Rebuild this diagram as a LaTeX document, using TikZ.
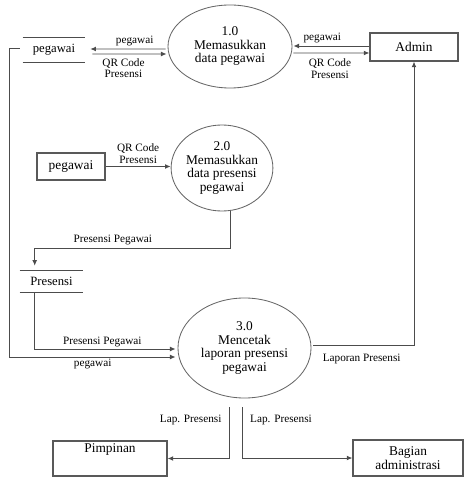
\documentclass[tikz,border=0pt]{standalone}
\usepackage{fontspec}
\setmainfont{Liberation Serif}
\usetikzlibrary{arrows.meta,positioning,calc,shapes.geometric}

\begin{document}
\begin{tikzpicture}[x=0.025cm, y=-0.025cm, >={Latex[length=4pt,width=3.5pt]},
    line/.style={draw=black!70, line width=0.7pt},
    proc/.style={ellipse, draw=black!60, line width=0.6pt, inner sep=0pt, align=center, font=\fontsize{9.5}{9.6}\selectfont},
    entity/.style={rectangle, draw=black!65, line width=0.8pt, inner sep=0pt, align=center, font=\fontsize{9.5}{9.6}\selectfont},
    store/.style={inner sep=0pt, font=\fontsize{9}{9}\selectfont},
    lbl/.style={inner sep=0pt, align=center, font=\fontsize{8}{8}\selectfont}]

    \useasboundingbox (0,0) rectangle (464,477);

    % Nodes
    \node[proc, minimum width=3.1cm, minimum height=2.075cm] (p1) at (230,46.5) {1.0\\Memasukkan\\data pegawai};
    \node[proc, minimum width=2.5cm, minimum height=2.15cm] (p2) at (222,168) {2.0\\Memasukkan\\data presensi\\pegawai};
    \node[proc, minimum width=3.325cm, minimum height=2.5cm] (p3) at (244.5,348) {3.0\\Mencetak\\laporan presensi\\pegawai};

    \node[entity, minimum width=2.2cm, minimum height=0.7cm] (admin) at (414,47) {Admin};
    \node[entity, minimum width=1.7cm, minimum height=0.675cm] (pegBox) at (71,166.5) {pegawai};
    \node[entity, minimum width=2.85cm, minimum height=0.875cm, text height=0.25cm, text depth=0.55cm] (pim) at (110,458.5) {Pimpinan};
    \node[entity, minimum width=2.75cm, minimum height=0.9cm] (bag) at (408,458) {Bagian\\administrasi};

    \node[store, minimum width=1.55cm, minimum height=0.6cm] (dsPeg) at (54,50) {pegawai};
    \node[store, minimum width=1.575cm, minimum height=0.525cm] (dsPres) at (51.5,281.5) {Presensi};
    \foreach \s in {dsPeg,dsPres}
        \draw[line] (\s.north west) -- (\s.north east) (\s.south west) -- (\s.south east);

    \coordinate (lapL) at (229,407);
    \coordinate (lapR) at (242,407);

    % Arrows
    \draw[line,->] ($(p1.west)+(-2,2.5)$) -- node[lbl, pos=0.41, above=1.5pt] {pegawai} ($(dsPeg.east)+(5,-1)$);
    \draw[line,->] ($(dsPeg.east)+(7,4)$) -- node[lbl, pos=0.42, below=3pt] {QR Code\\Presensi} ($(p1.west)+(-1,7.5)$);
    \draw[line,->] ($(admin.west)+(0,-1)$) -- node[lbl, pos=0.62, above=1.5pt] {pegawai} ($(p1.east)+(1,-0.5)$);
    \draw[line,->] ($(p1.east)+(1,6.5)$) -- node[lbl, pos=0.48, below=4pt] {QR Code\\Presensi} ($(admin.west)+(0,6)$);

    \draw[line,->] (pegBox.east) -- node[lbl, above=2pt] {QR Code\\Presensi} (pegBox.east -| p2.west);
    \draw[line,->] ($(p2.south)+(8,0)$) -- ++(0,37) -| node[lbl, pos=0.3, above=2pt] {Presensi Pegawai} ($(dsPres.north west)+(15,-5)$);

    \draw[line,->] ($(dsPres.south west)+(15,0)$) |- node[lbl, pos=0.74, above=1pt] {Presensi Pegawai} ($(p3.west)+(-2,1)$);
    \draw[line,->] ($(dsPeg.west)+(-3,-2)$) -- ++(-10,0) |- node[lbl, pos=0.75, below=1pt] {pegawai} ($(p3.west)+(-2,9)$);
    \draw[line,->] ($(p3.east)+(2,-3)$) -| node[lbl, pos=0.24, below=6pt] {Laporan Presensi} (admin.south);

    \draw[line,->] (lapL) |- node[lbl, pos=0.13, left=5pt] {Lap. Presensi} (pim.east);
    \draw[line,->] (lapR) |- node[lbl, pos=0.13, right=5.5pt] {Lap. Presensi} (bag.west);

\end{tikzpicture}
\end{document}
